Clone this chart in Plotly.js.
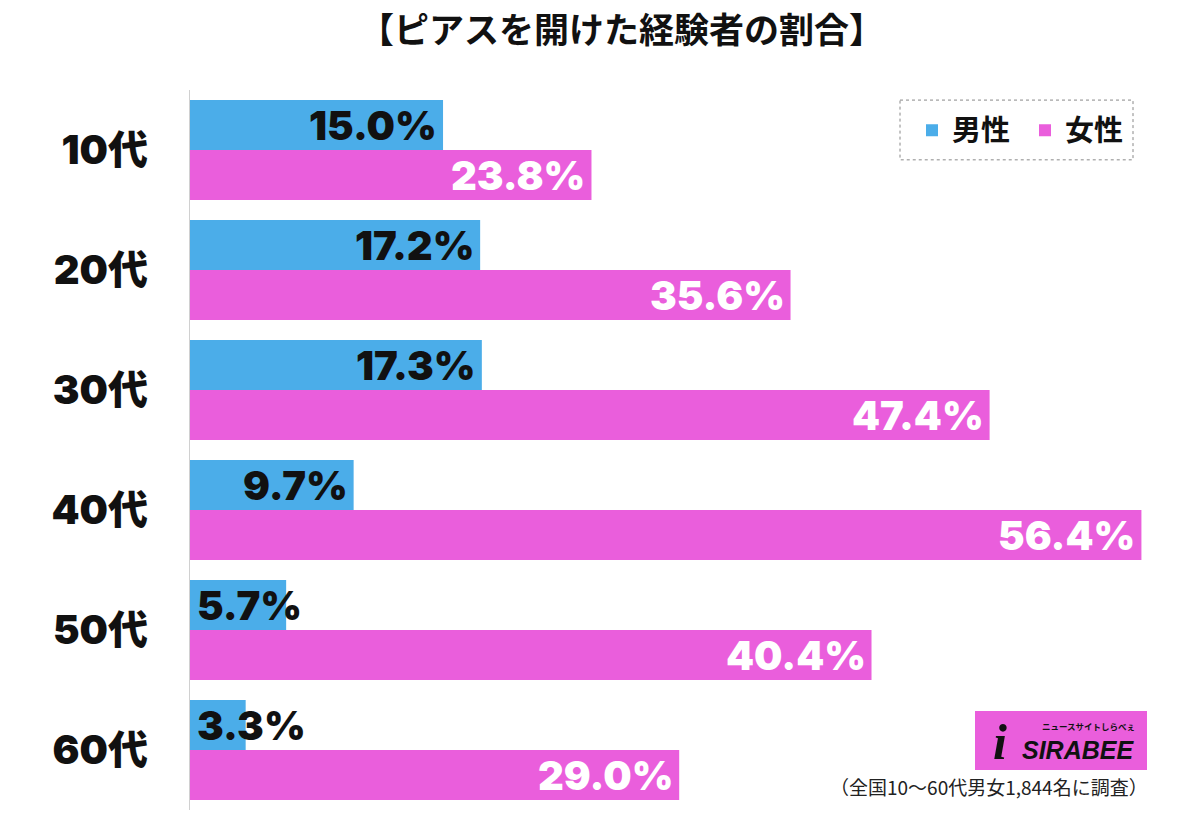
<!DOCTYPE html>
<html><head><meta charset="utf-8">
<script src="https://cdn.plot.ly/plotly-3.0.1.min.js"></script>
<style>html,body{margin:0;padding:0;background:#fff}#chart{width:1200px;height:814px}</style>
</head><body><div id="chart"></div>
<script>
const categories = ['10代','20代','30代','40代','50代','60代'];
const male = [15.0, 17.2, 17.3, 9.7, 5.7, 3.3];
const female = [23.8, 35.6, 47.4, 56.4, 40.4, 29.0];
const seriesNames = ['男性','女性'];
const titleText = '【ピアスを開けた経験者の割合】';
const noteText = '（全国10〜60代男女1,844名に調査）';

const BLUE = '#4BADE9', PINK = '#EA5EDC';
const numFont = 'Inter, Roboto, "Liberation Sans", Arial, sans-serif';
const cjkFont = '"Noto Sans CJK JP", "Noto Sans", sans-serif';

const traces = [
  {type:'bar', orientation:'h', name:seriesNames[0], y:categories, x:male, marker:{color:BLUE}, hoverinfo:'none'},
  {type:'bar', orientation:'h', name:seriesNames[1], y:categories, x:female, marker:{color:PINK}, hoverinfo:'none'}
];

const annotations = [];
function addLabels(vals, shift, color){
  vals.forEach((v,i)=>{
    const small = v < 7;
    annotations.push({
      x: small ? 0 : v, y: i, xref:'x', yref:'y',
      text: v.toFixed(1)+'%', showarrow:false,
      xanchor: small ? 'left' : 'right', xshift: small ? 5 : -4, yshift: shift,
      font:{family:numFont, size:40, color:color, weight:900}
    });
  });
}
addLabels(male, 25, '#111');
addLabels(female, -25, '#fff');

annotations.push({xref:'paper', yref:'paper', x:1.0, y:-0.0, xanchor:'right', yanchor:'bottom', yshift:8, xshift:-40,
  text:noteText, showarrow:false, font:{family:cjkFont, size:19, color:'#222'}});
annotations.push({xref:'paper', yref:'paper', x:0.830, y:0.084, xanchor:'left', yanchor:'middle',
  text:'<i><b>SIRABEE</b></i>', showarrow:false, font:{family:'"Liberation Sans", Arial, sans-serif', size:25, color:'#111'}});
annotations.push({xref:'paper', yref:'paper', x:0.850, y:0.116, xanchor:'left', yanchor:'middle',
  text:'<b>ニュースサイトしらべぇ</b>', showarrow:false, font:{family:cjkFont, size:8.5, color:'#111'}});
annotations.push({xref:'paper', yref:'paper', x:0.801, y:0.094, xanchor:'left', yanchor:'middle',
  text:'<b><i>i</i></b>', showarrow:false, font:{family:'"Liberation Serif", serif', size:50, color:'#111'}});

const layout = {
  width:1200, height:814,
  paper_bgcolor:'#fff', plot_bgcolor:'#fff',
  margin:{l:190, r:10, t:90, b:4},
  title:{text:'<b>'+titleText+'</b>', x:0.518, xanchor:'center', y:0.962, yanchor:'middle',
    font:{family:cjkFont, size:35, color:'#111'}},
  barmode:'group', bargap:0.167, bargroupgap:0,
  xaxis:{range:[0, 59.28], showgrid:false, zeroline:false, showticklabels:false, showline:false, fixedrange:true},
  yaxis:{autorange:'reversed', showgrid:false, zeroline:false, showline:true, linecolor:'#d0d0d0', linewidth:1,
    ticks:'', ticklabelstandoff:33, tickfont:{family:'Inter, "Noto Sans CJK JP", sans-serif', size:40, color:'#111', weight:900}},
  showlegend:true,
  legend:{orientation:'h', x:0.722, xanchor:'left', y:0.944, yanchor:'middle', traceorder:'normal',
    font:{family:cjkFont, size:29, color:'#111', weight:'bold'}, bgcolor:'rgba(0,0,0,0)', itemwidth:30, entrywidth:68},
  shapes:[
    {type:'rect', xref:'paper', yref:'paper', x0:0.71, x1:0.943, y0:0.986, y1:0.903,
      line:{color:'#888', width:1, dash:'dot'}, fillcolor:'rgba(0,0,0,0)'},
    {type:'rect', xref:'paper', yref:'paper', x0:0.785, x1:0.957, y0:0.1375, y1:0.0556,
      line:{width:0}, fillcolor:'#EA5EDC', layer:'below'}
  ],
  annotations:annotations
};
Plotly.newPlot('chart', traces, layout, {displayModeBar:false, staticPlot:true});
</script></body></html>
